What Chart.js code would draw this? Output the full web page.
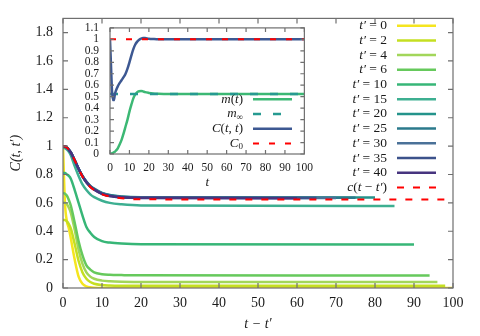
<!DOCTYPE html>
<html><head><meta charset="utf-8">
<script src="https://cdn.jsdelivr.net/npm/chart.js@4/dist/chart.umd.min.js"></script>
<style>
html,body{margin:0;padding:0;background:#fff;}
#wrap{position:relative;width:480px;height:336px;}
canvas{position:absolute;}
</style></head>
<body>
<div id="wrap">
<canvas id="main" width="480" height="336" style="left:0;top:0;width:480px;height:336px"></canvas>
<canvas id="inset" width="280" height="185" style="left:40px;top:10px;width:280px;height:185px"></canvas>
</div>
<script>
// ---------- data ----------
const lags = [0, 0.5, 1, 1.5, 2, 3, 4, 5, 6, 7, 8, 10, 12, 15, 20];
const tPrimes = [0, 2, 4, 6, 10, 15, 20, 25, 30, 35, 40];
const C_tp0  = [1.00, 0.60, 0.47, 0.42, 0.35, 0.20, 0.08, 0.03, 0.012, 0.005, 0.002, 0.000, 0.000, 0.000, 0.000];
const C_tp2  = [0.48, 0.48, 0.47, 0.45, 0.42, 0.31, 0.19, 0.11, 0.065, 0.042, 0.030, 0.021, 0.018, 0.016, 0.015];
const C_tp4  = [0.60, 0.60, 0.59, 0.565, 0.53, 0.41, 0.27, 0.17, 0.110, 0.080, 0.065, 0.052, 0.047, 0.044, 0.043];
const C_tp6  = [0.67, 0.665, 0.65, 0.62, 0.58, 0.46, 0.33, 0.23, 0.160, 0.130, 0.110, 0.097, 0.093, 0.091, 0.089];
const C_tp10 = [0.81, 0.81, 0.80, 0.79, 0.77, 0.69, 0.60, 0.51, 0.43, 0.39, 0.36, 0.33, 0.32, 0.313, 0.308];
const C_tp15 = [0.99, 0.985, 0.975, 0.96, 0.935, 0.86, 0.79, 0.73, 0.69, 0.66, 0.64, 0.615, 0.60, 0.59, 0.582];
const C_tp20 = [1.00, 0.997, 0.99, 0.975, 0.955, 0.90, 0.84, 0.79, 0.75, 0.72, 0.70, 0.67, 0.655, 0.645, 0.640];
const C_tp25 = [1.00, 0.997, 0.99, 0.975, 0.955, 0.90, 0.84, 0.788, 0.748, 0.718, 0.698, 0.668, 0.653, 0.643, 0.638];
const C_tp30 = [1.00, 0.997, 0.99, 0.975, 0.955, 0.90, 0.84, 0.787, 0.747, 0.716, 0.696, 0.666, 0.651, 0.641, 0.637];
const C_tp35 = [1.00, 0.997, 0.99, 0.975, 0.955, 0.90, 0.84, 0.786, 0.746, 0.715, 0.694, 0.664, 0.649, 0.640, 0.636];
const C_tp40 = [1.00, 0.997, 0.99, 0.975, 0.955, 0.90, 0.84, 0.786, 0.745, 0.714, 0.693, 0.663, 0.648, 0.639, 0.635];
const plateaus = [0.000, 0.015, 0.042, 0.088, 0.306, 0.578, 0.638, 0.636, 0.635, 0.634, 0.633];
const c_lag    = [1.00, 0.997, 0.99, 0.975, 0.955, 0.90, 0.84, 0.785, 0.745, 0.712, 0.69, 0.66, 0.645, 0.632, 0.625];
const c_plateau = 0.623;
const lagMax = 100;

const tIn   = [0, 0.5, 1, 1.5, 2, 2.5, 3, 4, 5, 6, 7, 8, 9, 10, 11, 12, 13, 14, 15, 16, 17, 18, 20, 22, 25, 30, 100];
const m_t   = [0, 0.002, 0.006, 0.010, 0.015, 0.020, 0.028, 0.050, 0.085, 0.125, 0.18, 0.24, 0.30, 0.37, 0.43, 0.485, 0.52, 0.54, 0.548, 0.55, 0.546, 0.54, 0.533, 0.528, 0.525, 0.523, 0.523];
const C_tt  = [1.00, 0.78, 0.56, 0.47, 0.47, 0.52, 0.55, 0.59, 0.62, 0.645, 0.67, 0.70, 0.745, 0.80, 0.86, 0.915, 0.955, 0.98, 0.997, 1.007, 1.012, 1.011, 1.006, 1.003, 1.0, 1.0, 1.0];
const m_inf = 0.523;
const C0 = 1.0;

const mainXTicks = [0, 10, 20, 30, 40, 50, 60, 70, 80, 90, 100];
const mainYTicks = [0, 0.2, 0.4, 0.6, 0.8, 1, 1.2, 1.4, 1.6, 1.8];
const insetXTicks = [0, 10, 20, 30, 40, 50, 60, 70, 80, 90, 100];
const insetYTicks = [0, 0.1, 0.2, 0.3, 0.4, 0.5, 0.6, 0.7, 0.8, 0.9, 1, 1.1];

const seriesColors = ['#f5e51f', '#c5df21', '#a2d65a', '#66c95c', '#37b677', '#3daf91', '#24938b', '#2b7a8c', '#4a7198', '#3c528b', '#47347f'];
// ---------------------------------------------------

const FF = '"Liberation Serif", "DejaVu Serif", serif';
const TXT = '#1a1a1a';
const curves = [C_tp0, C_tp2, C_tp4, C_tp6, C_tp10, C_tp15, C_tp20, C_tp25, C_tp30, C_tp35, C_tp40];

function toPts(xs, ys) { return xs.map((x, i) => ({x, y: ys[i]})); }

const mainSets = tPrimes.map((tp, k) => ({
  label: "t' = " + tp,
  data: toPts(lags, curves[k]).concat([{x: lagMax - tp, y: plateaus[k]}]),
  borderColor: seriesColors[k],
  borderWidth: 2.5,
  order: 20 - k,
  legendSegs: [['t′', 'i'], [' = ' + tp, 'r']]
}));
mainSets.push({
  label: "c(t-t')",
  data: toPts(lags, c_lag).concat([{x: lagMax, y: c_plateau}]),
  borderColor: '#ff0000',
  borderWidth: 2,
  borderDash: [7, 9],
  order: 1,
  legendSegs: [['c', 'i'], ['(', 'r'], ['t', 'i'], [' − ', 'r'], ['t′', 'i'], [')', 'r']]
});

function drawRich(ctx, segs, xRight, y, size) {
  const fonts = {i: `italic ${size}px ${FF}`, r: `${size}px ${FF}`, s: `${Math.round(size * 0.72)}px ${FF}`};
  let w = 0;
  segs.forEach(([t, k]) => { ctx.font = fonts[k]; w += ctx.measureText(t).width; });
  let x = xRight - w;
  ctx.textBaseline = 'middle'; ctx.textAlign = 'left'; ctx.fillStyle = TXT;
  segs.forEach(([t, k]) => { ctx.font = fonts[k]; ctx.fillText(t, x, k === 's' ? y + size * 0.28 : y); x += ctx.measureText(t).width; });
}

const framePlugin = {
  id: 'frame',
  afterDatasetsDraw(chart, args, opts) {
    const {ctx, chartArea: a, scales: {x, y}} = chart;
    const L = opts.len || 5;
    ctx.save();
    ctx.strokeStyle = '#6f6f6f'; ctx.lineWidth = 1.2;
    ctx.beginPath();
    x.ticks.forEach(t => { const p = x.getPixelForValue(t.value);
      ctx.moveTo(p, a.bottom); ctx.lineTo(p, a.bottom - L); ctx.moveTo(p, a.top); ctx.lineTo(p, a.top + L); });
    y.ticks.forEach(t => { const p = y.getPixelForValue(t.value);
      ctx.moveTo(a.left, p); ctx.lineTo(a.left + L, p); ctx.moveTo(a.right, p); ctx.lineTo(a.right - L, p); });
    ctx.stroke();
    ctx.strokeRect(a.left, a.top, a.right - a.left, a.bottom - a.top);
    ctx.restore();
  }
};

const legendPlugin = {
  id: 'richLegend',
  afterDraw(chart, args, opts) {
    const {ctx} = chart;
    ctx.save();
    chart.data.datasets.forEach((ds, i) => {
      const y = opts.y0 + i * opts.dy;
      drawRich(ctx, ds.legendSegs, opts.xText, y, opts.size);
      ctx.strokeStyle = ds.borderColor; ctx.lineWidth = ds.borderWidth;
      ctx.setLineDash(ds.borderDash || []);
      ctx.beginPath(); ctx.moveTo(opts.x0, y); ctx.lineTo(opts.x1, y); ctx.stroke();
      ctx.setLineDash([]);
    });
    ctx.restore();
  }
};

const fmt = v => String(Math.round(v * 10) / 10);

new Chart(document.getElementById('main'), {
  type: 'line',
  data: {datasets: mainSets},
  options: {
    responsive: false, animation: false, devicePixelRatio: 1,
    layout: {padding: {left: 0, top: 15, right: 27, bottom: 0}},
    elements: {point: {radius: 0}, line: {cubicInterpolationMode: 'monotone'}},
    plugins: {legend: {display: false}, tooltip: {enabled: false},
      frame: {len: 5},
      richLegend: {xText: 387, x0: 397, x1: 436, y0: 25.7, dy: 14.7, size: 13.5}},
    scales: {
      x: {type: 'linear', min: 0, max: 100,
        afterBuildTicks: s => { s.ticks = mainXTicks.map(v => ({value: v})); },
        afterFit: s => { s.height = 48; },
        grid: {display: false, drawTicks: false}, border: {display: false},
        ticks: {padding: 7, color: TXT, font: {family: FF, size: 14}, maxRotation: 0, autoSkip: false, callback: v => String(v)},
        title: {display: true, text: 't − t′', color: TXT, font: {family: FF, size: 14, style: 'italic'}, padding: {top: 0, bottom: 3}}
      },
      y: {type: 'linear', min: 0, max: 1.9,
        afterBuildTicks: s => { s.ticks = mainYTicks.map(v => ({value: v})); },
        afterFit: s => { s.width = 63; },
        grid: {display: false, drawTicks: false}, border: {display: false},
        ticks: {padding: 10, color: TXT, font: {family: FF, size: 14}, autoSkip: false, callback: fmt},
        title: {display: true, text: 'C(t, t′)', color: TXT, font: {family: FF, size: 14, style: 'italic'}, padding: {top: 8, bottom: 0}}
      }
    }
  },
  plugins: [framePlugin, legendPlugin]
});

const insetSets = [
  {label: 'm(t)', data: toPts(tIn, m_t), borderColor: '#3cb874', borderWidth: 2.5, order: 4,
   legendSegs: [['m', 'i'], ['(', 'r'], ['t', 'i'], [')', 'r']]},
  {label: 'm_inf', data: [{x: 0, y: m_inf}, {x: 100, y: m_inf}], borderColor: '#269a91', borderWidth: 2.5, borderDash: [8, 12], order: 3,
   legendSegs: [['m', 'i'], ['∞', 's']]},
  {label: 'C(t,t)', data: toPts(tIn, C_tt), borderColor: '#3d5892', borderWidth: 2.5, order: 2,
   legendSegs: [['C', 'i'], ['(', 'r'], ['t', 'i'], [', ', 'r'], ['t', 'i'], [')', 'r']]},
  {label: 'C0', data: [{x: 0, y: C0}, {x: 100, y: C0}], borderColor: '#ff0000', borderWidth: 2, borderDash: [6, 10], order: 1,
   legendSegs: [['C', 'i'], ['0', 's']]}
];

new Chart(document.getElementById('inset'), {
  type: 'line',
  data: {datasets: insetSets},
  options: {
    responsive: false, animation: false, devicePixelRatio: 1,
    layout: {padding: {left: 0, top: 14, right: 10.5, bottom: 0}},
    elements: {point: {radius: 0}, line: {cubicInterpolationMode: 'monotone'}},
    plugins: {legend: {display: false}, tooltip: {enabled: false},
      frame: {len: 4},
      richLegend: {xText: 203, x0: 213, x1: 252, y0: 89.3, dy: 14.7, size: 13}},
    scales: {
      x: {type: 'linear', min: 0, max: 100,
        afterBuildTicks: s => { s.ticks = insetXTicks.map(v => ({value: v})); },
        afterFit: s => { s.height = 41; },
        grid: {display: false, drawTicks: false}, border: {display: false},
        ticks: {padding: 7, color: TXT, font: {family: FF, size: 11.5}, maxRotation: 0, autoSkip: false, callback: v => String(v)},
        title: {display: true, text: 't', color: TXT, font: {family: FF, size: 13, style: 'italic'}, padding: {top: 0, bottom: 5}}
      },
      y: {type: 'linear', min: 0, max: 1.1,
        afterBuildTicks: s => { s.ticks = insetYTicks.map(v => ({value: v})); },
        afterFit: s => { s.width = 70; },
        grid: {display: false, drawTicks: false}, border: {display: false},
        ticks: {padding: 11, color: TXT, font: {family: FF, size: 11.5}, autoSkip: false, callback: fmt}
      }
    }
  },
  plugins: [framePlugin, legendPlugin]
});
</script>
</body></html>
